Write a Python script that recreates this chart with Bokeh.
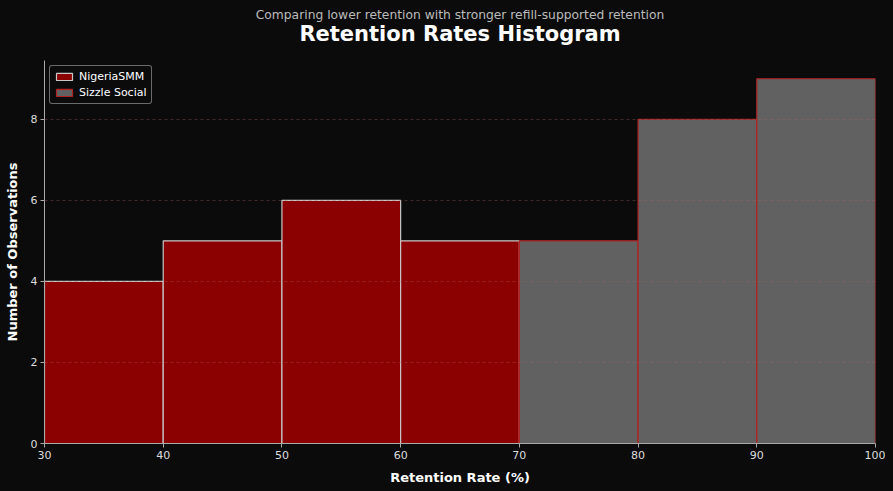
from bokeh.plotting import figure
from bokeh.models import Title, Range1d, Legend, LegendItem
from bokeh.embed import file_html
from bokeh.resources import INLINE

# histogram bins (retention %) and counts
nigeria_edges = [30, 40, 50, 60, 70]
nigeria_counts = [4, 5, 6, 5]
sizzle_edges = [70, 80, 90, 100]
sizzle_counts = [5, 8, 9]

y_ticks = [0, 2, 4, 6, 8]
x_ticks = [30, 40, 50, 60, 70, 80, 90, 100]

bg = "#0b0b0b"
font = "DejaVu Sans"

p = figure(width=885, height=487, output_backend="svg", toolbar_location=None,
           x_range=Range1d(30, 100), y_range=Range1d(0, 9.45),
           min_border_left=44, min_border_right=10, min_border_top=60, min_border_bottom=44)
p.background_fill_color = bg
p.border_fill_color = bg
p.outline_line_color = None

# outermost title = subtitle, the added ones sit closer to the plot
p.title.text = "Comparing lower retention with stronger refill-supported retention"
p.title.text_font = font
p.title.text_font_size = "12.3px"
p.title.text_font_style = "normal"
p.title.text_color = "#bbbbbb"
p.title.align = "center"
p.title.standoff = -4
# empty spacer between the plot and the main title
p.add_layout(Title(text=" ", text_font_size="1px", standoff=12), "above")
p.add_layout(Title(text="Retention Rates Histogram", text_font=font, text_font_size="21px",
                   text_font_style="bold", text_color="white", align="center", standoff=0), "above")

r1 = p.quad(left=nigeria_edges[:-1], right=nigeria_edges[1:], bottom=0, top=nigeria_counts,
            fill_color="#8b0000", line_color="#c8c8c8", line_width=1.2)
r2 = p.quad(left=sizzle_edges[:-1], right=sizzle_edges[1:], bottom=0, top=sizzle_counts,
            fill_color="#616161", line_color="#b22222", line_width=1.2)

legend = Legend(items=[LegendItem(label="NigeriaSMM", renderers=[r1]),
                       LegendItem(label="Sizzle Social", renderers=[r2])],
                location="top_left")
legend.background_fill_color = bg
legend.background_fill_alpha = 1
legend.border_line_color = "#cccccc"
legend.border_radius = 3
legend.label_text_color = "white"
legend.label_text_font = font
legend.label_text_font_size = "11px"
legend.glyph_width = 20
legend.glyph_height = 9
legend.spacing = 3
legend.padding = 4
legend.margin = 5
legend.label_height = 12
p.add_layout(legend, "center")

p.xgrid.visible = False
p.ygrid.ticker = y_ticks
p.ygrid.grid_line_color = "#b06060"
p.ygrid.grid_line_alpha = 0.35
p.ygrid.grid_line_dash = "3 3"
p.ygrid.level = "overlay"

for ax in (p.xaxis, p.yaxis):
    ax.axis_line_color = "#aaaaaa"
    ax.major_tick_line_color = "#aaaaaa"
    ax.minor_tick_line_color = None
    ax.major_tick_out = 4
    ax.major_tick_in = 0
    ax.major_label_text_color = "#dddddd"
    ax.major_label_text_font = font
    ax.major_label_text_font_size = "11px"
    ax.axis_label_text_color = "white"
    ax.axis_label_text_font = font
    ax.axis_label_text_font_size = "13px"
    ax.axis_label_text_font_style = "bold"
    ax.major_label_standoff = 3

p.xaxis.ticker = x_ticks
p.yaxis.ticker = y_ticks
p.xaxis.axis_label = "Retention Rate (%)"
p.yaxis.axis_label = "Number of Observations"
p.xaxis.axis_label_standoff = 8
p.yaxis.axis_label_standoff = 8

html = file_html(p, INLINE)
html = html.replace("<body>", '<body style="background-color:#0b0b0b;">')
open("out.html", "w").write(html)
